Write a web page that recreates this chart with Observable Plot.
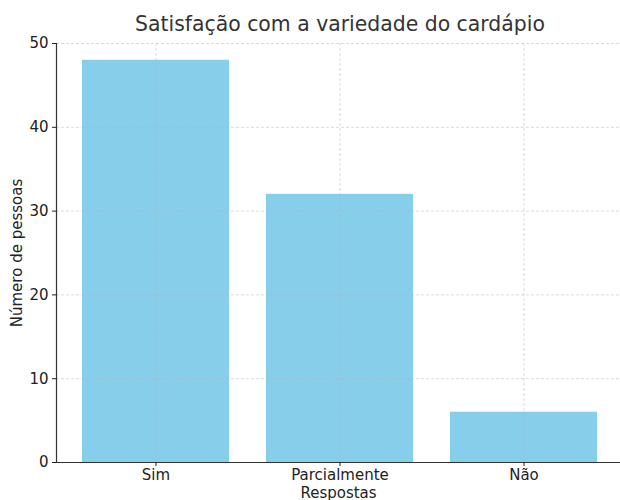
<!DOCTYPE html>
<html>
<head>
<meta charset="utf-8">
<script src="https://cdn.jsdelivr.net/npm/d3@7"></script>
<script src="https://cdn.jsdelivr.net/npm/@observablehq/plot@0.6"></script>
<style>
  html, body { margin: 0; padding: 0; background: #fff; }
  #wrap { position: relative; width: 620px; height: 500px; overflow: hidden; font-family: "DejaVu Sans", sans-serif; }
  #title { position: absolute; left: 0; top: 11px; width: 680px; text-align: center; font-size: 20.4px; color: #333; line-height: 26px; }
  #chart { position: absolute; left: 0; top: 36px; }
</style>
</head>
<body>
<div id="wrap">
  <div id="title">Satisfação com a variedade do cardápio</div>
  <div id="chart"></div>
</div>
<script>
const categories = ["Sim", "Parcialmente", "Não"];
const counts = [48, 32, 6];
const yTicks = [0, 10, 20, 30, 40, 50];

const data = categories.map((c, i) => ({resposta: c, n: counts[i]}));
const gridStyle = {stroke: "#b0b0b0", strokeDasharray: "3,2", strokeOpacity: 0.6, strokeWidth: 0.8};

const plot = Plot.plot({
  width: 620,
  height: 464,
  marginLeft: 56,
  marginRight: 0,
  marginTop: 7,
  marginBottom: 38,
  style: {fontFamily: "DejaVu Sans, sans-serif", color: "#222", background: "#fff", overflow: "visible"},
  x: {type: "band", domain: categories, range: [56, 624], paddingInner: 0.2, paddingOuter: 0.14},
  y: {domain: [0, 50]},
  marks: [
    Plot.barY(data, {x: "resposta", y: "n", fill: "#87CEEB"}),
    Plot.ruleY(yTicks.filter(d => d > 0), gridStyle),
    Plot.ruleX(categories, {...gridStyle}),
    Plot.ruleY([0], {stroke: "#333", strokeWidth: 1.2}),
    Plot.frame({anchor: "left", stroke: "#333", strokeWidth: 1.2}),
    Plot.axisY({ticks: yTicks, tickSize: 4, tickPadding: 4, fontSize: 15, label: "Número de pessoas", labelAnchor: "center", labelArrow: "none", labelOffset: 45}),
    Plot.axisX({tickSize: 4, tickPadding: 3, fontSize: 15, label: "Respostas", labelAnchor: "center", labelArrow: "none", labelOffset: 35})
  ]
});
document.getElementById("chart").appendChild(plot);
</script>
</body>
</html>
